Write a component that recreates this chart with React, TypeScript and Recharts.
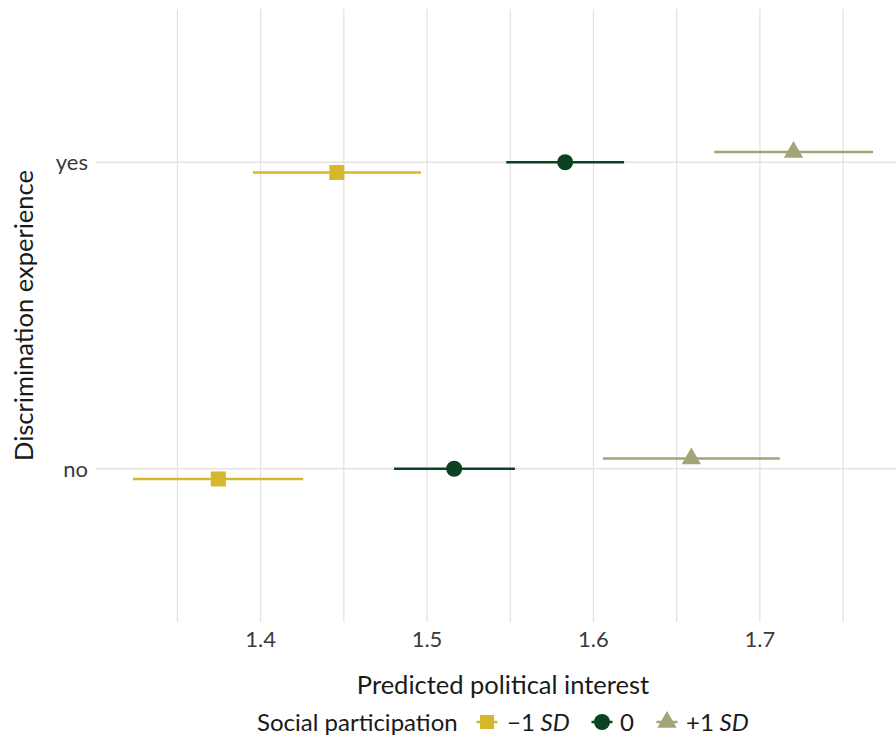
import React from 'react';
import { ScatterChart, Scatter, XAxis, YAxis, ErrorBar, Label, ReferenceLine } from 'recharts';

const categories = ['no', 'yes'];
const groupLabels = ['\u22121', '0', '+1'];
const groupItalic = [' SD', '', ' SD'];
const minusEst = [1.3746, 1.4458];
const minusLow = [1.3233, 1.3954];
const minusHigh = [1.4256, 1.4964];
const zeroEst = [1.5163, 1.583];
const zeroLow = [1.4802, 1.5476];
const zeroHigh = [1.5528, 1.6184];
const plusEst = [1.6588, 1.7202];
const plusLow = [1.6057, 1.6726];
const plusHigh = [1.712, 1.768];
const dodge = [-1 / 30, 0, 1 / 30];
const xGridTicks = [1.35, 1.4, 1.45, 1.5, 1.55, 1.6, 1.65, 1.7, 1.75];
const xLabelTicks = [1.4, 1.5, 1.6, 1.7];
const yTicks = [1, 2];
const colors = ['#D6B72B', '#0B4321', '#A2A478'];

const FONT = 'Lato, "Open Sans", sans-serif';
const GRID = '#E3E3E3';
const TICK = '#3A3A3A';

function build(est: number[], low: number[], high: number[], g: number) {
  return categories.map((c, i) => ({
    cat: c,
    x: est[i],
    y: i + 1 + dodge[g],
    err: [est[i] - low[i], high[i] - est[i]],
  }));
}

const seriesData = [
  build(minusEst, minusLow, minusHigh, 0),
  build(zeroEst, zeroLow, zeroHigh, 1),
  build(plusEst, plusLow, plusHigh, 2),
];

const SquareShape = (p: any) => (
  <rect x={p.cx - 7.5} y={p.cy - 7.5} width={15} height={15} fill={colors[0]} />
);
const CircleShape = (p: any) => <circle cx={p.cx} cy={p.cy} r={8} fill={colors[1]} />;
const TriangleShape = (p: any) => (
  <polygon
    points={`${p.cx},${p.cy - 11} ${p.cx - 9.7},${p.cy + 5.7} ${p.cx + 9.7},${p.cy + 5.7}`}
    fill={colors[2]}
  />
);
const shapes = [SquareShape, CircleShape, TriangleShape];

const LegendIcon = ({ g }: { g: number }) => (
  <svg width={24} height={24} style={{ display: 'block' }}>
    <line x1={1.5} y1={12} x2={22.5} y2={12} stroke={colors[g]} strokeWidth={2.5} />
    {g === 0 && <rect x={5} y={5} width={14} height={14} fill={colors[0]} />}
    {g === 1 && <circle cx={12} cy={12} r={8} fill={colors[1]} />}
    {g === 2 && <polygon points="12,1 2.3,17.7 21.7,17.7" fill={colors[2]} />}
  </svg>
);

const legendIconX = [487, 602, 667];
const legendTextX = [507, 620, 686];

export default function App() {
  return (
    <div
      style={{
        position: 'absolute',
        left: 0,
        top: 0,
        width: 896,
        height: 742,
        overflow: 'hidden',
        background: '#fff',
        fontFamily: FONT,
      }}
    >
      <ScatterChart width={920} height={742} margin={{ top: 9, right: 10, bottom: 0, left: 0 }}>
        <XAxis
          type="number"
          dataKey="x"
          domain={[1.3011, 1.7902]}
          ticks={xGridTicks}
          allowDataOverflow
          tickFormatter={(v: number) => (xLabelTicks.includes(v) ? v.toFixed(1) : '')}
          height={120}
          axisLine={false}
          tickLine={false}
          tickSize={0}
          tickMargin={9}
          tick={{ fontSize: 22, fill: TICK, fontFamily: FONT }}
        >
          <Label
            content={(props: any) => {
              const vb = props.viewBox;
              return (
                <text
                  x={vb.x + vb.width / 2}
                  y={vb.y + 72}
                  textAnchor="middle"
                  fontSize={25.5}
                  fill="#1A1A1A"
                  fontFamily={FONT}
                >
                  Predicted political interest
                </text>
              );
            }}
          />
        </XAxis>
        <YAxis
          type="number"
          dataKey="y"
          domain={[0.5, 2.5]}
          ticks={yTicks}
          allowDataOverflow
          tickFormatter={(v: number) => categories[v - 1] ?? ''}
          width={96}
          axisLine={false}
          tickLine={false}
          tickSize={0}
          tickMargin={8}
          tick={{ fontSize: 22, fill: TICK, fontFamily: FONT }}
        >
          <Label
            content={(props: any) => {
              const vb = props.viewBox;
              const cx = 33;
              const cy = vb.y + vb.height / 2;
              return (
                <text
                  x={cx}
                  y={cy}
                  transform={`rotate(-90, ${cx}, ${cy})`}
                  textAnchor="middle"
                  fontSize={25.5}
                  fill="#1A1A1A"
                  fontFamily={FONT}
                >
                  Discrimination experience
                </text>
              );
            }}
          />
        </YAxis>
        {xGridTicks.map((t) => (
          <ReferenceLine key={'vx' + t} x={t} stroke={GRID} strokeWidth={1.3} />
        ))}
        {yTicks.map((t) => (
          <ReferenceLine key={'hy' + t} y={t} stroke={GRID} strokeWidth={1.3} />
        ))}
        {seriesData.map((d, g) => (
          <Scatter key={g} data={d} shape={shapes[g]} isAnimationActive={false}>
            <ErrorBar
              dataKey="err"
              direction="x"
              width={0}
              stroke={colors[g]}
              strokeWidth={2.5}
              isAnimationActive={false}
            />
          </Scatter>
        ))}
      </ScatterChart>
      <div
        style={{
          position: 'absolute',
          left: 257,
          top: 707,
          lineHeight: '30px',
          fontSize: 24,
          color: '#1A1A1A',
          whiteSpace: 'nowrap',
        }}
      >
        Social participation
      </div>
      {groupLabels.map((lab, g) => (
        <React.Fragment key={g}>
          <div style={{ position: 'absolute', left: legendIconX[g] - 12, top: 710 }}>
            <LegendIcon g={g} />
          </div>
          <div
            style={{
              position: 'absolute',
              left: legendTextX[g],
              top: 707,
              lineHeight: '30px',
              fontSize: 24,
              color: '#1A1A1A',
              whiteSpace: 'nowrap',
            }}
          >
            {lab}
            {groupItalic[g] && <i>{groupItalic[g]}</i>}
          </div>
        </React.Fragment>
      ))}
    </div>
  );
}
